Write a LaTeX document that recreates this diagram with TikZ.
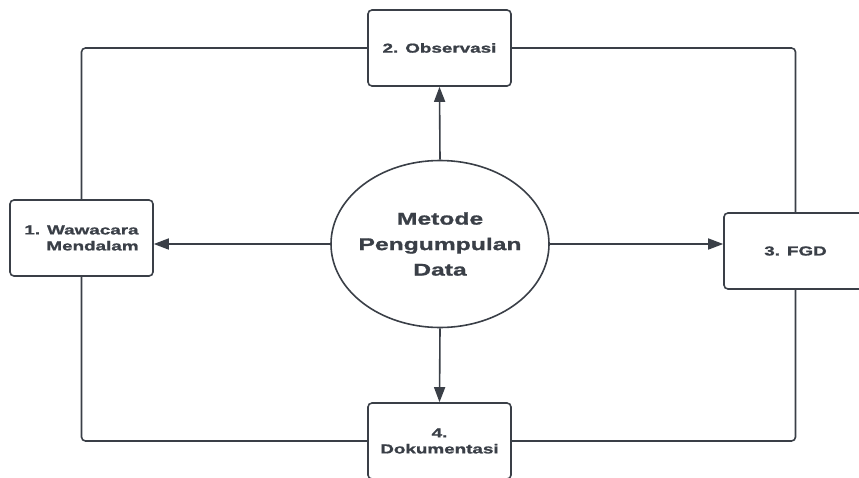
\documentclass[tikz,border=0pt]{standalone}
\usepackage{fontspec}
\setmainfont{Liberation Sans}[FakeStretch=1.45,BoldFeatures={FakeBold=1.2}]
\usetikzlibrary{shapes.geometric,arrows.meta}
\definecolor{ink}{RGB}{58,63,71}
\tikzset{
  box/.style={draw=ink,line width=1.6pt,rounded corners=4pt,fill=white,
    minimum width=143pt,minimum height=76pt,inner sep=0pt,
    text=ink,font=\bfseries\fontsize{13pt}{16pt}\selectfont,align=center},
  hub/.style={draw=ink,line width=1.6pt,ellipse,fill=white,
    minimum width=218pt,minimum height=167pt,inner xsep=-10pt,inner ysep=0pt,
    text=ink,font=\bfseries\fontsize{17pt}{25.5pt}\selectfont,align=center},
  frame/.style={draw=ink,line width=1.6pt,rounded corners=4pt},
  link/.style={draw=ink,line width=1.6pt,-{Triangle[length=15pt,width=11pt]}}
}
\begin{document}
\begin{tikzpicture}[x=1pt,y=1pt,yscale=-1,xscale=1]
\useasboundingbox (0,0) rectangle (859,477);

%Shape: Ellipse
\node[hub] (met) at (440,244) {Metode\\Pengumpulan\\Data};

%Shape: Rectangle
\node[box] (obs) at (439.5,48) {2. Observasi};
%Shape: Rectangle
\node[box,align=right] (waw) at (81.5,238) {1. Wawacara\\Mendalam};
%Shape: Rectangle
\node[box] (fgd) at (795.5,251) {3. FGD};
%Shape: Rectangle
\node[box] (dok) at (439.5,441) {4.\\Dokumentasi};

%Straight Lines
\draw[frame] (obs.west) -| (waw.north);
\draw[frame] (obs.east) -| (fgd.north);
\draw[frame] (waw.south) |- (dok.west);
\draw[frame] (fgd.south) |- (dok.east);

%Arrows
\draw[link] (met.north) -- (obs.south);
\draw[link] (met.south) -- (dok.north);
\draw[link] (met.west) -- (met.west -| waw.east);
\draw[link] (met.east) -- (met.east -| fgd.west);

\end{tikzpicture}
\end{document}
